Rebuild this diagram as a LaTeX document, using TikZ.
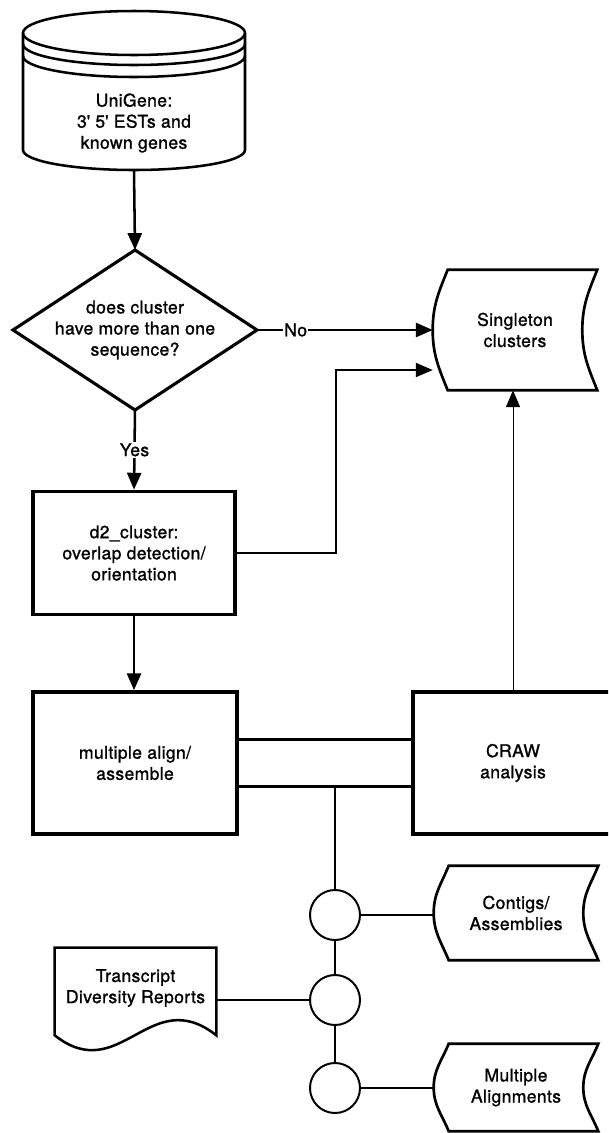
\documentclass[tikz,border=0pt]{standalone}
\usepackage{fontspec}
\setmainfont{TeX Gyre Heros}[FakeBold=1.2,LetterSpace=2]
\usetikzlibrary{arrows.meta}

\begin{document}
\begin{tikzpicture}[x=0.025cm,y=0.025cm,font=\fontsize{12.5}{15}\selectfont,
    box/.style={draw,line width=2.6pt,align=center,minimum width=5.05cm},
    store/.style={align=center,minimum width=4.1cm},
    junction/.style={draw,circle,line width=1.4pt,minimum size=1.25cm,inner sep=0pt},
    link/.style={line width=1.8pt},
    flow/.style={line width=1.8pt,-{Triangle[length=12pt,width=10pt]}},
    tag/.style={fill=white,inner sep=1pt}]
  \path[use as bounding box,clip] (0,0) rectangle (608,-1133);

  % database
  \draw[line width=1.8pt] (23,-33) -- (23,-150)
    arc[start angle=180,end angle=360,x radius=111,y radius=20] -- (245,-33);
  \draw[line width=1.8pt] (134,-33) ellipse[x radius=111,y radius=22];
  \foreach \y in {-44,-56}
    \draw[line width=1.8pt] (23,\y) arc[start angle=180,end angle=360,x radius=111,y radius=21];
  \node[align=center,minimum height=2.35cm] (uni) at (134,-123)
    {UniGene:\\3\textquotesingle{} 5\textquotesingle{} ESTs and\\known genes};

  % decision
  \draw[line width=2.2pt] (135,-250) coordinate (qn) -- (257,-330) coordinate (qe)
    -- (135,-410) coordinate (qs) -- (13,-330) -- cycle;
  \node[align=center] (q) at (135,-330) {does cluster\\have more than one\\sequence?};

  \node[box,minimum height=3.075cm] (d2) at (134,-553) {d2\_cluster:\\overlap detection/\\orientation};
  \node[box,minimum width=5.1cm,minimum height=3.55cm] (ma) at (135,-763) {multiple align/\\assemble};
  \node[box,minimum width=5cm,minimum height=3.55cm] (craw) at (513,-763) {CRAW\\analysis};

  % stored data
  \node[store,minimum height=3cm] (sing) at (515,-330) {Singleton\\clusters};
  \node[store,minimum height=2.35cm] (cont) at (516,-913) {Contigs/\\Assemblies};
  \node[store,minimum height=2.175cm] (malign) at (516,-1087.5) {Multiple\\Alignments};
  \foreach \n in {sing,cont,malign}
    \draw[line width=1.9pt] ([xshift=0.375cm]\n.north west) to[out=-112,in=90] (\n.west)
      to[out=-90,in=112] ([xshift=0.375cm]\n.south west) -- (\n.south east)
      to[out=112,in=-90] ([xshift=-0.375cm]\n.east) to[out=90,in=-112] (\n.north east) -- cycle;

  % report
  \node[align=center,minimum width=4.025cm,minimum height=2cm] (doc) at (135.5,-988)
    {Transcript\\Diversity Reports};
  \draw[line width=1.8pt] (doc.north west) -- (doc.north east) -- ([yshift=-0.175cm]doc.south east)
    .. controls (150,-983) and (120,-1087) .. ([yshift=-0.175cm]doc.south west) -- cycle;

  \node[junction] (j1) at (335,-915) {};
  \node[junction] (j2) at (335,-1000) {};
  \node[junction] (j3) at (335,-1088) {};
  \coordinate (tap) at (335,-786.5);

  \draw[flow] (uni.south) -- (qn);
  \draw[flow] (qe) -- node[tag,pos=.22] {No} (sing.west);
  \draw[flow] (qs) -- node[tag] {Yes} (d2.north);
  \draw[flow,line width=1.3pt] (d2.east) -- ++(99,0) |- ([yshift=-1cm]sing.west);
  \draw[flow] (d2.south) -- (d2.south |- ma.north);
  \draw[flow,line width=0.7pt] (craw.north) -- (craw.north |- sing.south);
  \draw[link] ([yshift=0.59cm]ma.east) -- ([yshift=0.59cm]craw.west);
  \draw[link] ([yshift=-0.59cm]ma.east) -- ([yshift=-0.59cm]craw.west);
  \draw[link] (tap) -- (j1) -- (j2) -- (j3);
  \draw[link] (j1) -- (j1 -| cont.west);
  \draw[link] (doc.east |- j2) -- (j2);
  \draw[link] (j3) -- (j3 -| malign.west);
\end{tikzpicture}
\end{document}
